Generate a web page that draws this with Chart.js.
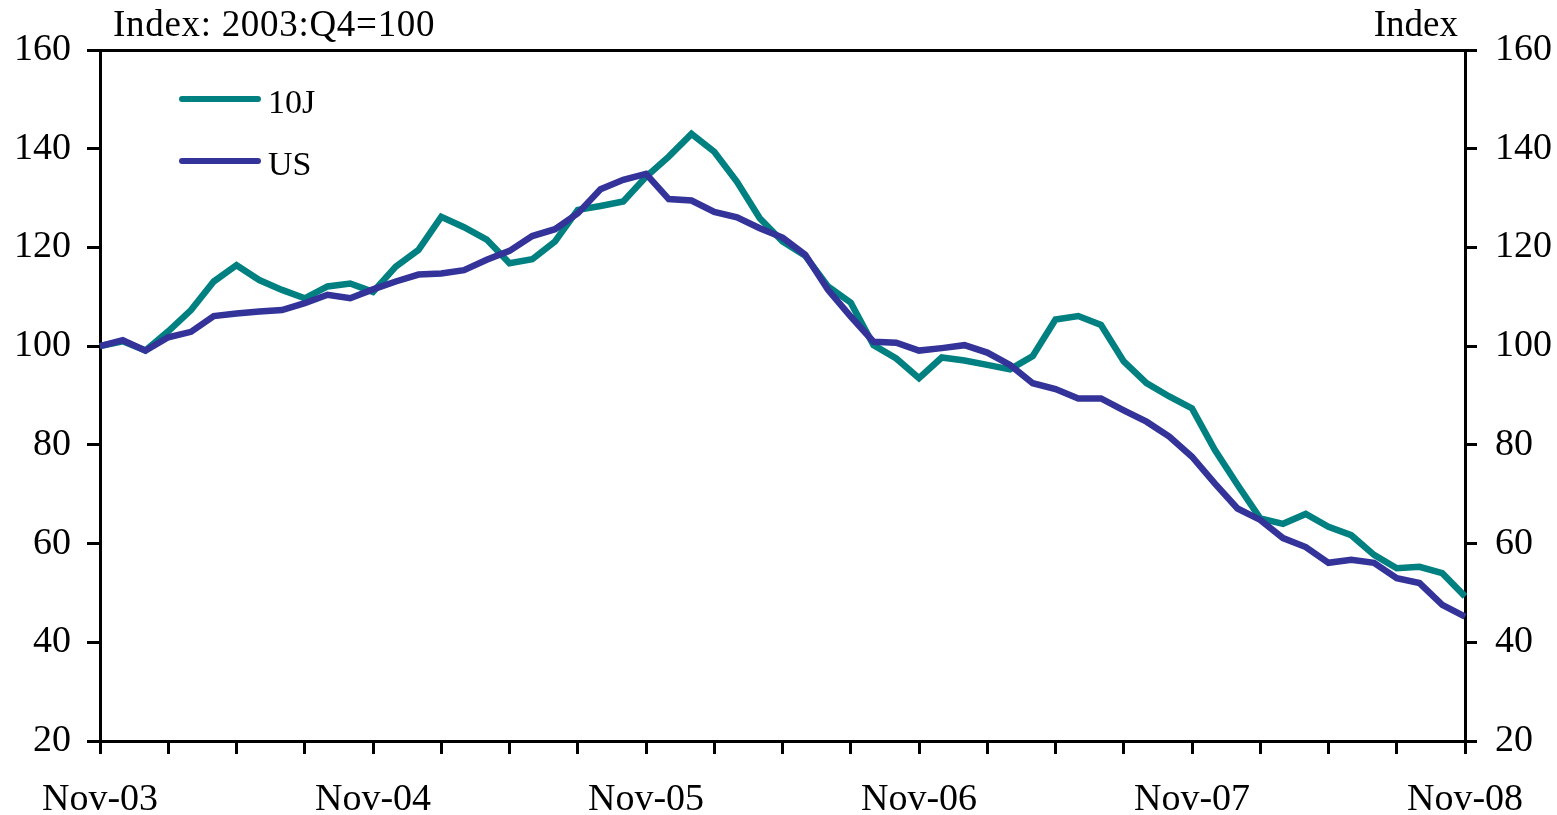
<!DOCTYPE html>
<html>
<head>
<meta charset="utf-8">
<script src="https://cdn.jsdelivr.net/npm/chart.js@4/dist/chart.umd.min.js"></script>
<style>
  body { margin: 0; background: #fff; }
  #wrap { width: 1557px; height: 815px; position: relative; }
</style>
</head>
<body>
<div id="wrap"><canvas id="myChart"></canvas></div>
<script>
// Monthly, Nov-03 to Nov-08
const monthNames = ["Jan", "Feb", "Mar", "Apr", "May", "Jun", "Jul", "Aug", "Sep", "Oct", "Nov", "Dec"];
const months = [];
for (let i = 0; i <= 60; i++) {
    let m = (10 + i) % 12;
    let y = 3 + Math.floor((10 + i) / 12);
    months.push(monthNames[m] + "-" + String(y).padStart(2, "0"));
}

// Index: 2003:Q4=100
const tenJ = [
    100.0, 101.0, 99.1, 103.0, 107.3, 113.1, 116.4, 113.4, 111.4, 109.7,
    112.1, 112.7, 111.0, 116.1, 119.5, 126.2, 124.1, 121.6, 116.8, 117.6,
    121.2, 127.6, 128.4, 129.3, 134.3, 138.4, 143.0, 139.4, 133.3, 125.9,
    121.2, 118.3, 112.1, 108.8, 100.2, 97.5, 93.5, 97.7, 97.1, 96.2,
    95.3, 98.0, 105.4, 106.1, 104.3, 96.9, 92.5, 89.8, 87.4, 79.0,
    71.9, 65.1, 64.0, 66.0, 63.4, 61.7, 57.7, 55.0, 55.3, 54.0,
    49.3
];
const us = [
    100.0, 101.2, 99.1, 101.8, 102.9, 106.1, 106.6, 107.0, 107.3, 108.7,
    110.4, 109.7, 111.5, 113.1, 114.5, 114.7, 115.4, 117.5, 119.3, 122.3,
    123.7, 126.9, 131.8, 133.7, 134.9, 129.8, 129.5, 127.2, 126.1, 123.9,
    122.0, 118.5, 111.4, 106.0, 100.9, 100.7, 99.1, 99.6, 100.2, 98.7,
    96.2, 92.5, 91.3, 89.4, 89.4, 87.0, 84.7, 81.7, 77.6, 72.2,
    67.1, 64.8, 61.1, 59.3, 56.1, 56.7, 56.1, 53.0, 52.0, 47.6,
    45.2
];
const yMin = 20, yMax = 160, yStep = 20;
const leftCaption = "Index: 2003:Q4=100";
const rightCaption = "Index";

const serif = "'Liberation Serif', 'Times New Roman', serif";
const tickFont = { family: serif, size: 38 };

// légende et titres dessinés dans la zone du graphique
const captions = {
    id: "captions",
    afterDraw(chart) {
        const ctx = chart.ctx;
        const area = chart.chartArea;
        ctx.save();
        ctx.fillStyle = "#000";
        ctx.font = "37px " + serif;
        ctx.textBaseline = "alphabetic";
        ctx.textAlign = "left";
        ctx.letterSpacing = "0.7px";
        ctx.fillText(leftCaption, area.left + 13, 36);
        ctx.letterSpacing = "0px";
        ctx.textAlign = "right";
        ctx.fillText(rightCaption, area.right - 7, 36);

        ctx.font = "34px " + serif;
        ctx.textAlign = "left";
        chart.data.datasets.forEach((ds, k) => {
            let yy = 99 + k * 62;
            ctx.strokeStyle = ds.borderColor;
            ctx.lineWidth = 6;
            ctx.lineCap = "round";
            ctx.beginPath();
            ctx.moveTo(area.left + 82, yy);
            ctx.lineTo(area.left + 158, yy);
            ctx.stroke();
            ctx.fillText(ds.label, area.left + 168, yy + 14);
        });
        ctx.restore();
    }
};

new Chart(document.getElementById("myChart"), {
    type: "line",
    data: {
        labels: months,
        datasets: [{
            label: "10J",
            data: tenJ,
            borderColor: "#008080",
            borderWidth: 6.5,
            pointRadius: 0,
            tension: 0,
            order: 2,
            yAxisID: "y"
        }, {
            label: "US",
            data: us,
            borderColor: "#333399",
            borderWidth: 6.5,
            pointRadius: 0,
            tension: 0,
            order: 1,
            yAxisID: "y"
        }]
    },
    options: {
        responsive: true,
        maintainAspectRatio: false,
        animation: false,
        layout: { padding: { top: 50, left: 0, right: 0, bottom: 0 } },
        plugins: {
            legend: { display: false },
            tooltip: { enabled: false }
        },
        scales: {
            x: {
                type: "category",
                position: "bottom",
                offset: false,
                border: { color: "#000", width: 3 },
                grid: {
                    drawOnChartArea: false,
                    tickLength: 13,
                    lineWidth: 3,
                    tickColor: (c) => (c.index % 3 === 0 ? "#000" : "rgba(0,0,0,0)")
                },
                ticks: {
                    autoSkip: false,
                    maxRotation: 0,
                    color: "#000",
                    font: tickFont,
                    padding: 23,
                    callback: function (value, index) {
                        return index % 12 === 0 ? this.getLabelForValue(value) : "";
                    }
                },
                afterFit: (s) => { s.height = 74; }
            },
            xTop: {
                type: "category",
                position: "top",
                offset: false,
                border: { color: "#000", width: 3 },
                grid: { drawOnChartArea: false, drawTicks: false },
                ticks: { display: false },
                afterFit: (s) => { s.height = 0; }
            },
            y: {
                type: "linear",
                position: "left",
                min: yMin,
                max: yMax,
                border: { color: "#000", width: 3 },
                grid: { drawOnChartArea: false, tickLength: 13, lineWidth: 3, color: "#000" },
                ticks: { stepSize: yStep, color: "#000", font: tickFont, padding: 16 },
                afterFit: (s) => { s.width = 100; }
            },
            y2: {
                type: "linear",
                position: "right",
                min: yMin,
                max: yMax,
                border: { color: "#000", width: 3 },
                grid: { drawOnChartArea: false, tickLength: 12, lineWidth: 3, color: "#000" },
                ticks: { stepSize: yStep, color: "#000", font: tickFont, padding: 18 },
                afterFit: (s) => { s.width = 92; }
            }
        }
    },
    plugins: [captions]
});
</script>
</body>
</html>
